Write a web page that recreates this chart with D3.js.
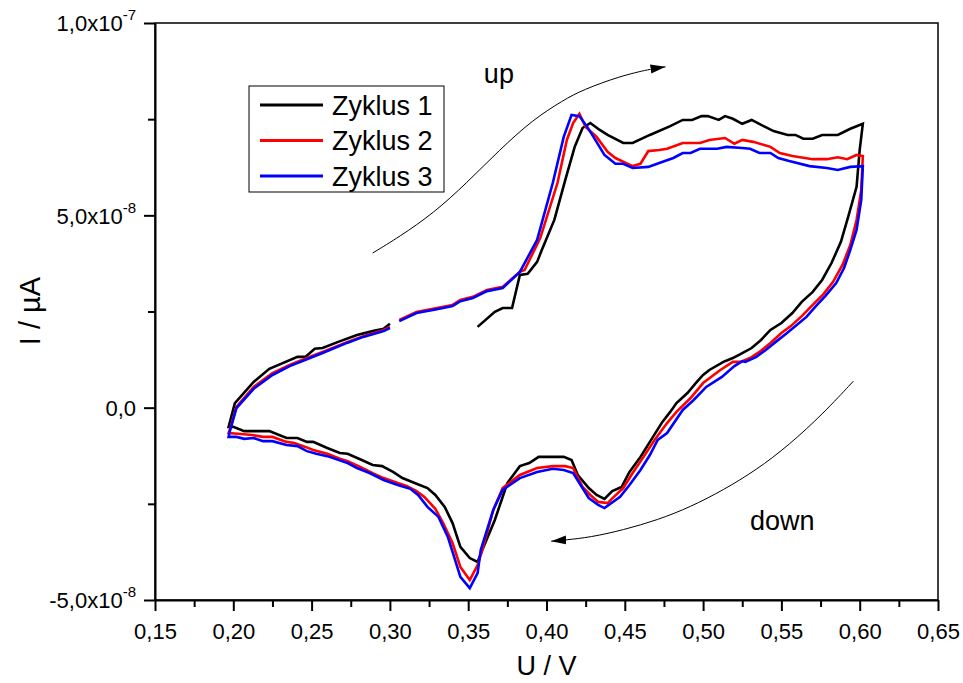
<!DOCTYPE html>
<html>
<head>
<meta charset="utf-8">
<script src="https://cdn.jsdelivr.net/npm/d3@7"></script>
<style>
  body { margin: 0; background: #fff; }
  svg { display: block; font-family: "Liberation Sans", Arial, sans-serif; }
</style>
</head>
<body>
<svg id="chart" width="963" height="683"></svg>
<script>
// U in V, I in units of 1e-8 A
const cycleNames = ["Zyklus 1", "Zyklus 2", "Zyklus 3"];
const cycleColors = ["#000000", "#ff0000", "#0000ff"];

const cycle1 = [
  [0.356,2.10],[0.367,2.49],[0.372,2.59],[0.378,2.59],[0.383,3.45],[0.388,3.48],[0.394,3.79],[0.397,4.10],
  [0.405,4.88],[0.412,5.92],[0.418,6.78],[0.423,7.27],[0.428,7.40],[0.434,7.22],[0.439,7.09],[0.449,6.88],
  [0.455,6.88],[0.466,7.09],[0.479,7.32],[0.487,7.48],[0.493,7.48],[0.499,7.58],[0.503,7.58],[0.510,7.48],
  [0.514,7.58],[0.519,7.51],[0.525,7.38],[0.531,7.48],[0.538,7.33],[0.545,7.19],[0.554,7.09],[0.559,7.09],
  [0.564,6.99],[0.570,6.99],[0.576,7.09],[0.586,7.09],[0.594,7.25],[0.602,7.38],
  [0.600,6.70],[0.598,5.74],[0.593,5.01],[0.588,4.31],[0.582,3.76],[0.576,3.32],[0.570,3.01],[0.563,2.75],
  [0.557,2.46],[0.550,2.20],[0.543,2.02],[0.537,1.76],[0.531,1.55],[0.525,1.42],[0.519,1.29],[0.513,1.19],
  [0.504,0.98],[0.500,0.85],[0.496,0.67],[0.490,0.38],[0.483,0.12],[0.479,-0.11],[0.474,-0.37],[0.468,-0.76],
  [0.460,-1.28],[0.453,-1.67],[0.448,-2.06],[0.442,-2.17],[0.437,-2.37],[0.432,-2.27],[0.427,-2.09],[0.420,-1.75],
  [0.416,-1.36],[0.411,-1.28],[0.395,-1.28],[0.389,-1.44],[0.383,-1.52],[0.375,-1.96],[0.367,-2.92],[0.359,-3.70],
  [0.356,-4.01],[0.351,-3.91],[0.345,-3.62],[0.340,-3.00],[0.335,-2.58],[0.329,-2.27],[0.324,-2.09],[0.317,-1.98],
  [0.308,-1.83],[0.302,-1.67],[0.295,-1.52],[0.289,-1.49],[0.282,-1.36],[0.273,-1.20],[0.268,-1.18],[0.260,-1.05],
  [0.251,-0.89],[0.247,-0.89],[0.241,-0.79],[0.234,-0.79],[0.223,-0.61],[0.207,-0.61],[0.200,-0.50],[0.197,-0.50],
  [0.201,0.12],[0.213,0.67],[0.223,1.01],[0.241,1.32],[0.246,1.32],[0.252,1.53],[0.257,1.55],[0.267,1.71],
  [0.279,1.89],[0.289,1.99],[0.296,2.05],[0.300,2.18]
];

const cycle2 = [
  [0.306,2.28],[0.317,2.49],[0.330,2.59],[0.340,2.67],[0.345,2.80],[0.353,2.88],[0.362,3.06],[0.372,3.14],
  [0.383,3.53],[0.386,3.58],[0.396,4.41],[0.407,5.84],[0.413,6.96],[0.417,7.40],[0.421,7.64],[0.425,7.30],
  [0.432,7.04],[0.439,6.65],[0.444,6.49],[0.455,6.28],[0.460,6.34],[0.465,6.67],[0.472,6.70],[0.477,6.73],
  [0.487,6.88],[0.498,6.88],[0.504,6.96],[0.514,7.01],[0.520,6.86],[0.525,6.96],[0.532,6.91],[0.543,6.78],
  [0.549,6.62],[0.557,6.54],[0.570,6.46],[0.579,6.46],[0.586,6.51],[0.592,6.46],[0.598,6.57],[0.602,6.54],
  [0.601,5.66],[0.598,4.88],[0.594,4.23],[0.589,3.71],[0.583,3.27],[0.577,2.96],[0.570,2.67],[0.563,2.38],
  [0.556,2.12],[0.550,1.94],[0.543,1.68],[0.536,1.45],[0.530,1.29],[0.524,1.19],[0.519,1.19],[0.511,0.98],
  [0.500,0.64],[0.492,0.25],[0.483,-0.11],[0.477,-0.40],[0.469,-0.84],[0.462,-1.28],[0.455,-1.70],[0.449,-2.09],
  [0.443,-2.32],[0.439,-2.48],[0.433,-2.45],[0.428,-2.27],[0.423,-2.06],[0.417,-1.57],[0.412,-1.52],[0.404,-1.52],
  [0.394,-1.57],[0.383,-1.75],[0.372,-2.09],[0.366,-2.66],[0.359,-3.70],[0.356,-4.09],[0.351,-4.48],[0.345,-4.14],
  [0.340,-3.52],[0.334,-3.00],[0.329,-2.63],[0.322,-2.32],[0.317,-2.17],[0.311,-2.04],[0.305,-1.96],[0.296,-1.83],
  [0.289,-1.70],[0.281,-1.54],[0.273,-1.39],[0.268,-1.33],[0.260,-1.20],[0.251,-1.10],[0.246,-1.02],[0.239,-0.92],
  [0.234,-0.89],[0.225,-0.76],[0.219,-0.76],[0.212,-0.71],[0.203,-0.68],[0.197,-0.66],
  [0.198,-0.55],[0.202,0.02],[0.213,0.54],[0.225,0.90],[0.236,1.11],[0.247,1.29],[0.257,1.45],[0.273,1.71],
  [0.283,1.86],[0.296,2.02],[0.300,2.10]
];

const cycle3 = [
  [0.306,2.25],[0.317,2.46],[0.330,2.56],[0.340,2.64],[0.345,2.77],[0.353,2.85],[0.362,3.03],[0.372,3.11],
  [0.383,3.53],[0.394,4.36],[0.404,5.84],[0.411,7.04],[0.416,7.61],[0.421,7.58],[0.426,7.30],[0.430,7.04],
  [0.437,6.57],[0.444,6.34],[0.449,6.34],[0.455,6.23],[0.465,6.26],[0.472,6.36],[0.481,6.49],[0.487,6.62],
  [0.492,6.62],[0.498,6.73],[0.509,6.73],[0.515,6.78],[0.525,6.75],[0.530,6.73],[0.536,6.62],[0.543,6.62],
  [0.548,6.49],[0.555,6.41],[0.568,6.28],[0.579,6.23],[0.586,6.18],[0.594,6.26],[0.602,6.28],
  [0.601,5.40],[0.598,4.62],[0.594,4.10],[0.590,3.63],[0.585,3.24],[0.578,2.90],[0.572,2.64],[0.566,2.36],
  [0.559,2.12],[0.553,1.92],[0.547,1.73],[0.540,1.50],[0.534,1.32],[0.527,1.19],[0.525,1.21],[0.520,1.08],
  [0.512,0.80],[0.502,0.54],[0.494,0.20],[0.487,-0.06],[0.477,-0.66],[0.471,-0.84],[0.466,-1.23],[0.460,-1.62],
  [0.453,-2.01],[0.447,-2.32],[0.437,-2.61],[0.433,-2.53],[0.427,-2.35],[0.417,-1.70],[0.411,-1.62],[0.404,-1.59],
  [0.394,-1.67],[0.383,-1.83],[0.372,-2.14],[0.366,-2.66],[0.358,-3.70],[0.356,-4.30],[0.351,-4.69],[0.345,-4.40],
  [0.337,-3.36],[0.331,-2.84],[0.324,-2.58],[0.318,-2.27],[0.313,-2.11],[0.305,-2.01],[0.296,-1.88],[0.287,-1.70],
  [0.279,-1.57],[0.273,-1.44],[0.260,-1.26],[0.253,-1.20],[0.247,-1.13],[0.241,-1.00],[0.234,-0.97],[0.225,-0.87],
  [0.219,-0.87],[0.213,-0.79],[0.207,-0.81],[0.202,-0.76],[0.197,-0.76],
  [0.198,-0.58],[0.202,-0.01],[0.213,0.49],[0.225,0.85],[0.236,1.08],[0.247,1.26],[0.257,1.42],[0.273,1.69],
  [0.283,1.84],[0.296,1.99],[0.300,2.07]
];

// annotation arrows (scan direction), in data coordinates
const arrowUp = [[0.289,4.02],[0.306,4.44],[0.328,5.06],[0.349,5.84],[0.370,6.70],[0.391,7.48],[0.411,8.00],
  [0.423,8.26],[0.447,8.62],[0.466,8.80],[0.476,8.86]];
const arrowDown = [[0.596,0.69],[0.577,-0.14],[0.555,-0.97],[0.534,-1.62],[0.513,-2.14],[0.492,-2.58],
  [0.471,-2.92],[0.449,-3.18],[0.428,-3.37],[0.412,-3.44],[0.403,-3.47]];

const xTicks = [0.15,0.20,0.25,0.30,0.35,0.40,0.45,0.50,0.55,0.60,0.65];
const xTickLabels = ["0,15","0,20","0,25","0,30","0,35","0,40","0,45","0,50","0,55","0,60","0,65"];
const xMinorTicks = [0.175,0.225,0.275,0.325,0.375,0.425,0.475,0.525,0.575,0.625];
const yTicks = [-5, 0, 5, 10];
const yTickLabels = [["-5,0x10","-8"],["0,0",""],["5,0x10","-8"],["1,0x10","-7"]];
const yMinorTicks = [-2.5, 2.5, 7.5];

const svg = d3.select("#chart");
const plotL = 155, plotR = 938, plotT = 23, plotB = 600;

const x = d3.scaleLinear().domain([0.15, 0.65]).range([plotL, plotR]);
const y = d3.scaleLinear().domain([-5, 10]).range([plotB, plotT]);

// frame
svg.append("rect")
  .attr("x", plotL).attr("y", plotT)
  .attr("width", plotR - plotL).attr("height", plotB - plotT)
  .attr("fill", "none").attr("stroke", "#000").attr("stroke-width", 1.5);

// x axis
const xAxis = svg.append("g").attr("transform", `translate(0,${plotB})`)
  .call(d3.axisBottom(x).tickValues(xTicks).tickSize(11).tickSizeOuter(0)
    .tickFormat((d, i) => xTickLabels[i]));
svg.append("g").attr("transform", `translate(0,${plotB})`)
  .call(d3.axisBottom(x).tickValues(xMinorTicks).tickSize(7).tickSizeOuter(0).tickFormat(""))
  .select(".domain").remove();

// y axis
const yAxis = svg.append("g").attr("transform", `translate(${plotL},0)`)
  .call(d3.axisLeft(y).tickValues(yTicks).tickSize(11).tickSizeOuter(0).tickFormat(""));
svg.append("g").attr("transform", `translate(${plotL},0)`)
  .call(d3.axisLeft(y).tickValues(yMinorTicks).tickSize(7).tickSizeOuter(0).tickFormat(""))
  .select(".domain").remove();

svg.selectAll(".domain").attr("stroke-width", 2);
svg.selectAll(".tick line").attr("stroke-width", 2);

xAxis.selectAll(".tick text")
  .attr("font-size", 22).attr("font-family", "Liberation Sans, Arial, sans-serif")
  .attr("fill", "#000").attr("dy", null).attr("y", 39);

yAxis.selectAll(".tick").each(function (d, i) {
  const t = d3.select(this).append("text")
    .attr("x", -19).attr("dy", "0.36em")
    .attr("text-anchor", "end").attr("fill", "#000")
    .attr("font-size", 22);
  t.append("tspan").text(yTickLabels[i][0]);
  if (yTickLabels[i][1]) {
    t.append("tspan").attr("font-size", 15).attr("dy", "-0.75em").text(yTickLabels[i][1]);
  }
});

// axis titles
svg.append("text")
  .attr("x", (plotL + plotR) / 2).attr("y", 675)
  .attr("text-anchor", "middle").attr("font-size", 27)
  .text("U / V");
svg.append("text")
  .attr("transform", "translate(40,311) rotate(-90)")
  .attr("text-anchor", "middle").attr("font-size", 29)
  .text("I / µA");

// data lines
const line = d3.line().x(d => x(d[0])).y(d => y(d[1]));
[cycle1, cycle2, cycle3].forEach((c, i) => {
  svg.append("path")
    .datum(c)
    .attr("d", line)
    .attr("fill", "none")
    .attr("stroke", cycleColors[i])
    .attr("stroke-width", 2.6)
    .attr("stroke-linejoin", "miter");
});

// arrows
svg.append("defs").append("marker")
  .attr("id", "head")
  .attr("markerUnits", "userSpaceOnUse")
  .attr("viewBox", "0 -5 15 10")
  .attr("refX", 15).attr("refY", 0)
  .attr("markerWidth", 15).attr("markerHeight", 10)
  .attr("orient", "auto")
  .append("path").attr("d", "M0,-4.5L15,0L0,4.5Z").attr("fill", "#000");

const arrowLine = d3.line().x(d => x(d[0])).y(d => y(d[1])).curve(d3.curveBasis);
[arrowUp, arrowDown].forEach(a => {
  svg.append("path")
    .datum(a)
    .attr("d", arrowLine)
    .attr("fill", "none")
    .attr("stroke", "#000")
    .attr("stroke-width", 1)
    .attr("marker-end", "url(#head)");
});

svg.append("text").attr("x", x(0.360)).attr("y", y(8.44))
  .attr("font-size", 27).text("up");
svg.append("text").attr("x", x(0.530)).attr("y", y(-3.18))
  .attr("font-size", 27).text("down");

// legend
const legend = svg.append("g");
legend.append("rect")
  .attr("x", 249).attr("y", 86).attr("width", 195).attr("height", 106)
  .attr("fill", "#fff").attr("stroke", "#000").attr("stroke-width", 1);
cycleNames.forEach((name, i) => {
  const ly = 105 + i * 35.5;
  legend.append("line")
    .attr("x1", 260).attr("x2", 323).attr("y1", ly).attr("y2", ly)
    .attr("stroke", cycleColors[i]).attr("stroke-width", 3);
  legend.append("text")
    .attr("x", 332).attr("y", ly + 9.5)
    .attr("font-size", 27).text(name);
});
</script>
</body>
</html>
